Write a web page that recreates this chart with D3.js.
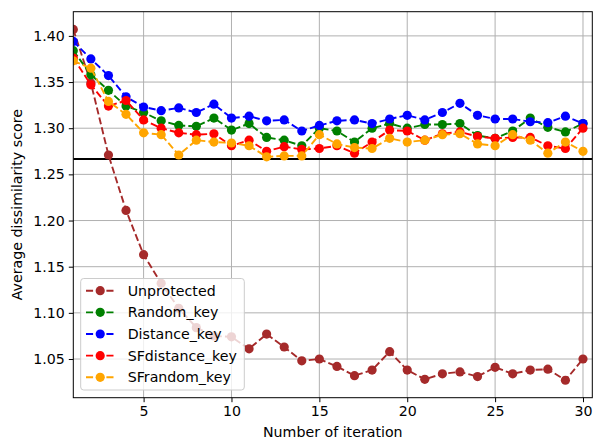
<!DOCTYPE html>
<html><head><meta charset="utf-8">
<script src="https://cdn.jsdelivr.net/npm/d3@7"></script>
<style>body{margin:0;background:#fff;} svg{display:block;font-family:"DejaVu Sans",sans-serif;}</style>
</head><body><svg id="c" width="593" height="442"></svg>
<script>
const iterations = d3.range(1, 31);
const unprotected = [1.407,1.349,1.271,1.211,1.163,1.132,1.105,1.084,1.075,1.074,1.061,1.077,1.063,1.048,1.050,1.042,1.032,1.038,1.058,1.038,1.028,1.034,1.036,1.031,1.041,1.034,1.038,1.039,1.027,1.050];
const randomKey = [1.384,1.358,1.341,1.324,1.317,1.308,1.303,1.302,1.311,1.298,1.305,1.290,1.287,1.281,1.300,1.297,1.285,1.300,1.305,1.300,1.304,1.304,1.305,1.292,1.289,1.297,1.311,1.301,1.296,1.305];
const distanceKey = [1.394,1.375,1.357,1.334,1.323,1.319,1.322,1.317,1.326,1.311,1.313,1.308,1.309,1.297,1.303,1.308,1.309,1.305,1.310,1.314,1.309,1.317,1.327,1.314,1.310,1.310,1.307,1.306,1.313,1.305];
const sfDistanceKey = [1.376,1.347,1.324,1.330,1.309,1.300,1.295,1.293,1.294,1.281,1.287,1.275,1.280,1.277,1.278,1.281,1.273,1.285,1.298,1.297,1.287,1.294,1.296,1.291,1.289,1.290,1.290,1.281,1.278,1.300];
const sfRandomKey = [1.373,1.365,1.329,1.315,1.295,1.293,1.271,1.287,1.285,1.284,1.281,1.269,1.270,1.270,1.293,1.283,1.279,1.278,1.289,1.285,1.287,1.293,1.294,1.283,1.281,1.293,1.287,1.273,1.285,1.275];
const refLine = 1.2667;
const seriesNames = ["Unprotected","Random_key","Distance_key","SFdistance_key","SFrandom_key"];
const seriesColors = ["#a52a2a","#008000","#0000ff","#ff0000","#ffa500"];
const seriesValues = [unprotected, randomKey, distanceKey, sfDistanceKey, sfRandomKey];
const xTicks = [5,10,15,20,25,30];
const yTicks = [1.05,1.10,1.15,1.20,1.25,1.30,1.35,1.40];

const FS = "14.2px";
const svg = d3.select("#c");
const L = 73.3, R = 592.3, T = 11.7, B = 397.7;
const x = d3.scaleLinear().domain([1, 30.53]).range([L, R]);
const y = d3.scaleLinear().domain([1.0081, 1.4262]).range([B, T]);

svg.append("defs").append("clipPath").attr("id","clip")
  .append("rect").attr("x",L).attr("y",T).attr("width",R-L).attr("height",B-T);

// grid
const g = svg.append("g");
g.selectAll(".vg").data(xTicks).join("line")
  .attr("x1",d=>x(d)).attr("x2",d=>x(d)).attr("y1",T).attr("y2",B)
  .attr("stroke","#b0b0b0").attr("stroke-width",1);
g.selectAll(".hg").data(yTicks).join("line")
  .attr("y1",d=>y(d)).attr("y2",d=>y(d)).attr("x1",L).attr("x2",R)
  .attr("stroke","#b0b0b0").attr("stroke-width",1);

const plot = svg.append("g").attr("clip-path","url(#clip)");
plot.append("line").attr("x1",L).attr("x2",R).attr("y1",y(refLine)).attr("y2",y(refLine))
  .attr("stroke","#000").attr("stroke-width",2);

const line = d3.line().x((d,i)=>x(iterations[i])).y(d=>y(d));
seriesValues.forEach((vals, k) => {
  const sg = plot.append("g");
  sg.append("path").attr("d", line(vals)).attr("fill","none")
    .attr("stroke", seriesColors[k]).attr("stroke-width",1.9)
    .attr("stroke-dasharray","7.1,3.1");
  sg.selectAll("circle").data(vals).join("circle")
    .attr("cx",(d,i)=>x(iterations[i])).attr("cy",d=>y(d)).attr("r",4.6)
    .attr("fill", seriesColors[k]);
});

// axes
const xAxis = svg.append("g").attr("transform",`translate(0,${B})`)
  .call(d3.axisBottom(x).tickValues(xTicks).tickSize(4.5).tickPadding(4).tickFormat(d3.format("d")));
const yAxis = svg.append("g").attr("transform",`translate(${L},0)`)
  .call(d3.axisLeft(y).tickValues(yTicks).tickSize(4.5).tickPadding(4).tickFormat(d3.format(".2f")));
[xAxis,yAxis].forEach(a=>{
  a.select(".domain").remove();
  a.selectAll("text").attr("font-size",FS).attr("fill","#000").attr("font-family","DejaVu Sans");
  a.selectAll("line").attr("stroke","#000").attr("stroke-width",1);
});
svg.append("rect").attr("x",L).attr("y",T).attr("width",R-L).attr("height",B-T)
  .attr("fill","none").attr("stroke","#000").attr("stroke-width",1);

svg.append("text").attr("x",(L+R)/2).attr("y",437).attr("text-anchor","middle")
  .attr("font-size",FS).text("Number of iteration");
svg.append("text").attr("transform",`translate(22,${(T+B)/2}) rotate(-90)`).attr("text-anchor","middle")
  .attr("font-size",FS).text("Average dissimilarity score");

// legend
const lg = svg.append("g");
lg.append("rect").attr("x",80.7).attr("y",278.5).attr("width",163.6).attr("height",111.5)
  .attr("rx",3).attr("fill","#fff").attr("fill-opacity",0.8).attr("stroke","#cccccc").attr("stroke-width",1);
seriesNames.forEach((n,k)=>{
  const yy = 290.7 + k*21.65;
  lg.append("line").attr("x1",86).attr("x2",114.3).attr("y1",yy).attr("y2",yy)
    .attr("stroke",seriesColors[k]).attr("stroke-width",1.9).attr("stroke-dasharray","7.1,3.1");
  lg.append("circle").attr("cx",100.2).attr("cy",yy).attr("r",4.6).attr("fill",seriesColors[k]);
  lg.append("text").attr("x",127.7).attr("y",yy+5).attr("font-size",FS).text(n);
});
</script></body></html>
